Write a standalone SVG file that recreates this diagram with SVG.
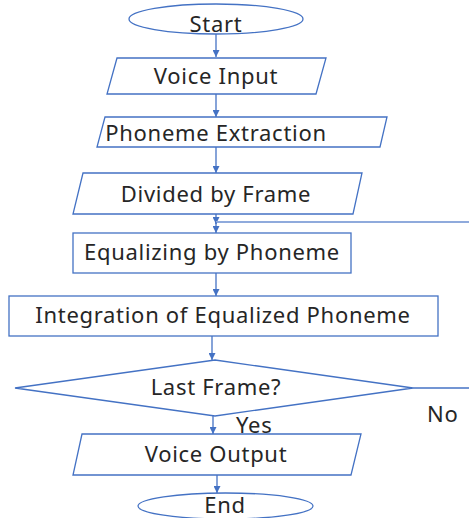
<svg xmlns="http://www.w3.org/2000/svg" width="469" height="518" viewBox="0 0 469 518">
  <defs>
    <marker id="arrow" viewBox="0 0 10 10" refX="10" refY="5" markerWidth="7" markerHeight="7" markerUnits="userSpaceOnUse" orient="auto">
      <path d="M0,0 L10,5 L0,10 z" fill="#4472C4"/>
    </marker>
  </defs>
  <style>
    .shape { fill: #ffffff; stroke: #4472C4; stroke-width: 1.3; }
    .label { font-family: "Noto Sans", "DejaVu Sans", sans-serif; font-size: 22px; letter-spacing: 0.7px; fill: #262626; text-anchor: middle; }
    .note { font-family: "Noto Sans", "DejaVu Sans", sans-serif; font-size: 22px; letter-spacing: 0.7px; fill: #262626; }
    .flow { fill: none; stroke: #4472C4; stroke-width: 1.3; }
    .loop { fill: none; stroke: #8FAADC; stroke-width: 2; }
  </style>

  <g id="connectors">
    <line class="flow" x1="216" y1="34" x2="216" y2="57" marker-end="url(#arrow)"/>
    <line class="flow" x1="216" y1="94" x2="216" y2="117" marker-end="url(#arrow)"/>
    <line class="flow" x1="216" y1="147" x2="216" y2="173" marker-end="url(#arrow)"/>
    <line class="flow" x1="216" y1="214" x2="216" y2="224" marker-end="url(#arrow)"/>
    <polyline class="loop" points="469,222 216,222"/>
    <line class="flow" x1="216" y1="222" x2="216" y2="233" marker-end="url(#arrow)"/>
    <line class="flow" x1="216" y1="273" x2="216" y2="296" marker-end="url(#arrow)"/>
    <line class="flow" x1="212" y1="336" x2="212" y2="360" marker-end="url(#arrow)"/>
    <line class="flow" x1="413" y1="388" x2="469" y2="388"/>
    <line class="flow" x1="213" y1="416" x2="213" y2="434" marker-end="url(#arrow)"/>
    <line class="flow" x1="217" y1="475" x2="217" y2="493" marker-end="url(#arrow)"/>
    <text class="note" x="427" y="422">No</text>
    <text class="note" x="236" y="433">Yes</text>
  </g>

  <g id="start">
    <ellipse class="shape" cx="216" cy="19" rx="87" ry="15"/>
    <text class="label" x="216" y="32">Start</text>
  </g>

  <g id="voice-input">
    <polygon class="shape" points="117,58 326,58 316,94 107,94"/>
    <text class="label" x="216" y="84">Voice Input</text>
  </g>

  <g id="phoneme-extraction">
    <polygon class="shape" points="105,117 387,117 380,147 97,147"/>
    <text class="label" x="216" y="141">Phoneme Extraction</text>
  </g>

  <g id="divided-by-frame">
    <polygon class="shape" points="83,173 362,173 353,214 73,214"/>
    <text class="label" x="216" y="202">Divided by Frame</text>
  </g>

  <g id="equalizing">
    <rect class="shape" x="73" y="233" width="278" height="40"/>
    <text class="label" x="212" y="260">Equalizing by Phoneme</text>
  </g>

  <g id="integration">
    <rect class="shape" x="9" y="296" width="429" height="40"/>
    <text class="label" x="223" y="323">Integration of Equalized Phoneme</text>
  </g>

  <g id="last-frame">
    <polygon class="shape" points="215,360 413,388 215,416 15,388"/>
    <text class="label" x="216" y="395">Last Frame?</text>
  </g>

  <g id="voice-output">
    <polygon class="shape" points="82,434 361,434 351,475 73,475"/>
    <text class="label" x="216" y="462">Voice Output</text>
  </g>

  <g id="end">
    <ellipse class="shape" cx="225.5" cy="506" rx="87.5" ry="13"/>
    <text class="label" x="225" y="513">End</text>
  </g>
</svg>
